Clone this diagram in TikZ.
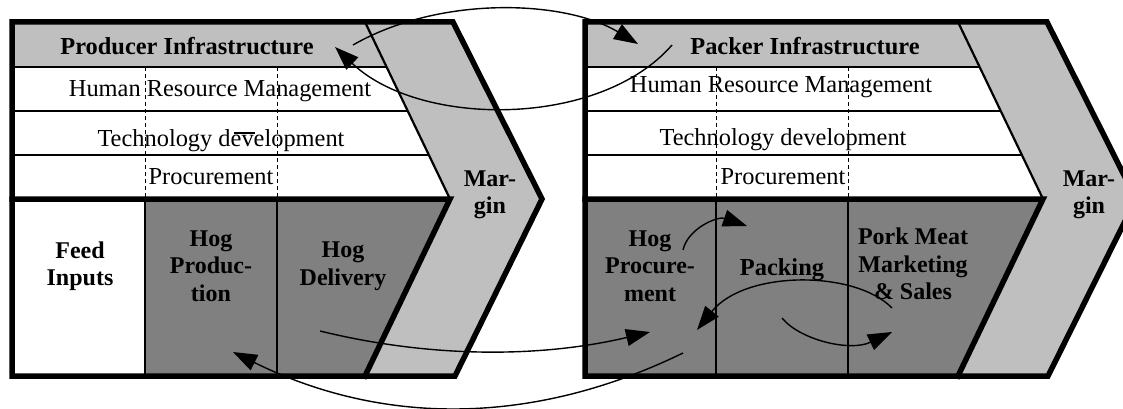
\documentclass[tikz,border=0pt]{standalone}
\usepackage{fontspec}
\setmainfont{Liberation Serif}
\usetikzlibrary{arrows.meta}
\definecolor{lgray}{gray}{0.75}
\definecolor{dgray}{gray}{0.5}
\begin{document}
\begin{tikzpicture}[x=1pt,y=-1pt,
  thickb/.style={line width=5.5pt, line join=miter, line cap=rect},
  thinb/.style={line width=1.6pt},
  edgeb/.style={line width=2.2pt},
  dashv/.style={line width=1pt, dash pattern=on 4pt off 3pt},
  lbl/.style={font=\fontsize{24.4}{27}\selectfont, inner sep=0pt},
  blbl/.style={font=\fontsize{24}{27.5}\selectfont\bfseries, align=center, inner sep=0pt},
  flow/.style={line width=1.4pt, -{Triangle[length=24pt,width=17pt]}},
]
\useasboundingbox (0,0) rectangle (1123,409);
\clip (0,0) rectangle (1123,409);

% ---------- left panel (producer) ----------
\fill[lgray] (12,22) -- (365,22) -- (386.6,67) -- (12,67) -- cycle;
\fill[lgray] (365,22) -- (453,22) -- (542,199) -- (455,376) -- (365,376) -- (450,199) -- cycle;
\fill[dgray] (145,199) -- (450,199) -- (365,376) -- (145,376) -- cycle;
\draw[thinb] (12,67) -- (386.6,67);
\draw[thinb] (12,111) -- (407.7,111);
\draw[thinb] (12,155) -- (428.9,155);
\draw[edgeb] (365,22) -- (450,199);
\draw[dashv] (145,67) -- (145,199);
\draw[dashv] (277,67) -- (277,199);
\draw[thinb] (145,199) -- (145,376);
\draw[thinb] (277,199) -- (277,376);
\draw[thickb] (12,22) -- (453,22) -- (542,199) -- (455,376) -- (12,376) -- cycle;
\draw[thickb] (12,199) -- (450,199) -- (365,376);

% ---------- right panel (packer) ----------
\fill[lgray] (585,22) -- (958,22) -- (979.6,67) -- (585,67) -- cycle;
\fill[lgray] (958,22) -- (1047,22) -- (1136,199) -- (1048,376) -- (958,376) -- (1043,199) -- cycle;
\fill[dgray] (585,199) -- (1043,199) -- (958,376) -- (585,376) -- cycle;
\draw[thinb] (585,67) -- (979.6,67);
\draw[thinb] (585,111) -- (1000.7,111);
\draw[thinb] (585,155) -- (1021.9,155);
\draw[edgeb] (958,22) -- (1043,199);
\draw[dashv] (716,67) -- (716,199);
\draw[dashv] (848,67) -- (848,199);
\draw[thinb] (716,199) -- (716,376);
\draw[thinb] (848,199) -- (848,376);
\draw[thickb] (585,22) -- (1047,22) -- (1136,199) -- (1048,376) -- (585,376) -- cycle;
\draw[thickb] (585,199) -- (1043,199) -- (958,376);

% ---------- texts ----------
\node[lbl,anchor=base] (pinf) at (187,55) {\bfseries Producer Infrastructure};
\node[lbl,anchor=base] (phrm) at (220,97) {Human Resource Management};
\node[lbl,anchor=base] (ptd) at (221,146) {Technology development};
\node[lbl,anchor=base] (ppro) at (211,184) {Procurement};
\node[blbl] (feed) at (80,266) {Feed\\Inputs};
\node[blbl] (hprod) at (211,266) {Hog\\Produc-\\tion};
\node[blbl] (hdel) at (343,266) {Hog\\Delivery};
\node[blbl] (pmar) at (490,195) {Mar-\\gin};

\node[lbl,anchor=base] (kinf) at (805,55) {\bfseries Packer Infrastructure};
\node[lbl,anchor=base] (khrm) at (781,93) {Human Resource Management};
\node[lbl,anchor=base] (ktd) at (783,145) {Technology development};
\node[lbl,anchor=base] (kpro) at (783,184) {Procurement};
\node[blbl] (hproc) at (650,266) {Hog\\Procure-\\ment};
\node[lbl,anchor=base] (pack) at (782,275) {\bfseries Packing};
\node[blbl] (pork) at (913,264) {Pork Meat\\Marketing\\\& Sales};
\node[blbl] (kmar) at (1089,195) {Mar-\\gin};

% small stray mark
\draw[line width=1.3pt] (234,133) -- (255,133);

% ---------- flow arrows ----------
\coordinate (a1s) at (353,45);  \coordinate (a1e) at (638,44);
\coordinate (a2s) at (672,45);  \coordinate (a2e) at (335,47);
\coordinate (a3s) at (320,331); \coordinate (a3e) at (650,332);
\coordinate (a4s) at (683,353); \coordinate (a4e) at (233,352);
\coordinate (a5s) at (683,250); \coordinate (a5e) at (747,226);
\coordinate (a6s) at (892,308); \coordinate (a6e) at (697,330);
\coordinate (a7s) at (782,318); \coordinate (a7e) at (892,332);

\draw[flow] (a1s) .. controls (440,-5) and (565,0) .. (a1e);
\draw[flow] (a2s) .. controls (600,128) and (420,128) .. (a2e);
\draw[flow] (a3s) .. controls (430,358) and (540,358) .. (a3e);
\draw[flow] (a4s) .. controls (533,426) and (383,426) .. (a4e);
\draw[flow] (a5s) .. controls (688,228) and (718,216) .. (a5e);
\draw[flow] (a6s) .. controls (855,270) and (745,270) .. (a6e);
\draw[flow] (a7s) .. controls (800,340) and (850,352) .. (a7e);
\end{tikzpicture}
\end{document}
